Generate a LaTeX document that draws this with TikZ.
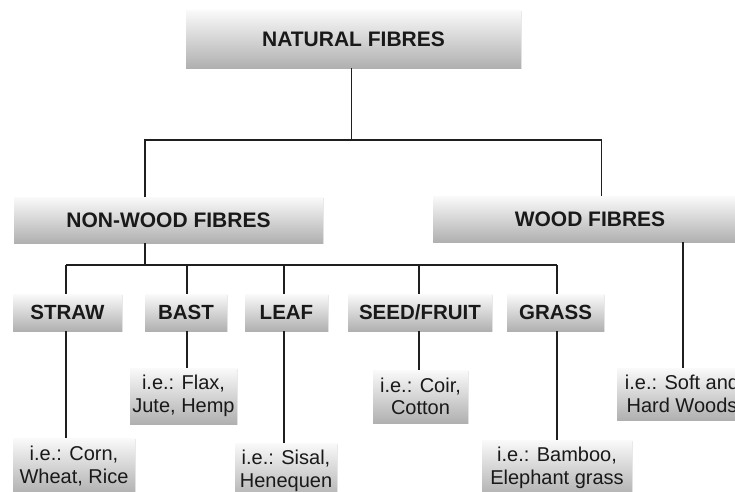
\documentclass[tikz,border=0pt]{standalone}
\usepackage{fontspec}
\setmainfont{Liberation Sans}
\usetikzlibrary{shadows}
\begin{document}
\begin{tikzpicture}[x=1pt,y=-1pt,
  box/.style={draw=none, top color=gray!4, bottom color=gray!62, inner sep=0pt,
    align=center, text=black!90,
    drop shadow={shadow xshift=1.2pt, shadow yshift=-1.2pt, opacity=0.18}},
  head/.style={box, font=\bfseries\fontsize{21}{24}\selectfont},
  cat/.style={box, font=\bfseries\fontsize{20.5}{24}\selectfont, minimum height=37pt},
  ex/.style={box, font=\fontsize{20}{22.5}\selectfont, minimum height=56pt},
  link/.style={line width=1.8pt, draw=black!88}]
\useasboundingbox (0,0) rectangle (735,491);
\clip (0,0) rectangle (735,491);
\fill[white] (0,0) rectangle (735,491);

% level 0 / 1
\node[head, minimum width=335pt, minimum height=58pt] (nat) at (353.5,39) {NATURAL FIBRES};
\node[head, minimum width=309pt, minimum height=46pt] (nw) at (168.5,220) {NON-WOOD FIBRES};
\node[head, minimum width=314pt, minimum height=46pt] (wd) at (590,219) {WOOD FIBRES};

% level 2
\node[cat, minimum width=109pt] (st) at (67.5,312.5) {STRAW};
\node[cat, minimum width=82pt] (ba) at (186,312.5) {BAST};
\node[cat, minimum width=83pt] (le) at (286.5,312.5) {LEAF};
\node[cat, minimum width=144pt] (se) at (420,312.5) {SEED/FRUIT};
\node[cat, minimum width=97pt] (gr) at (555.5,312.5) {GRASS};

% level 3
\node[ex, minimum width=122pt] (exst) at (74,466) {i.e.: Corn,\\Wheat, Rice};
\node[ex, minimum width=107pt] (exba) at (183.5,396) {i.e.: Flax,\\Jute, Hemp};
\node[ex, minimum width=102pt] (exle) at (286,471) {i.e.: Sisal,\\Henequen};
\node[ex, minimum width=95pt, minimum height=53pt] (exse) at (420.5,396.5) {i.e.: Coir,\\Cotton};
\node[ex, minimum width=150pt] (exgr) at (557,468) {i.e.: Bamboo,\\Elephant grass};
\node[ex, minimum width=130pt, minimum height=52pt] (exwd) at (682,394) {i.e.: Soft and\\Hard Woods};

% connector coordinates
\coordinate (j0) at (351.5,140);
\coordinate (jnw) at (145,140);
\coordinate (jwd) at (601.5,140);
\coordinate (b0) at (145,265);
\coordinate (s1) at (66,265);
\coordinate (s2) at (187,265);
\coordinate (s3) at (284,265);
\coordinate (s4) at (419,265);
\coordinate (s5) at (557,265);
\coordinate (w1) at (683,0);

\draw[link] (j0 |- nat.south) -- (j0);
\draw[link] (jnw |- nw.north) -- (jnw) -- (jwd) -- (jwd |- wd.north);
\draw[link] (b0 |- nw.south) -- (b0);
\draw[link] (s1) -- (s5);
\foreach \s/\c/\e in {s1/st/exst, s2/ba/exba, s3/le/exle, s4/se/exse, s5/gr/exgr}{
  \draw[link] (\s) -- (\s |- \c.north);
  \draw[link] (\s |- \c.south) -- (\s |- \e.north);
}
\draw[link] (w1 |- wd.south) -- (w1 |- exwd.north);
\end{tikzpicture}
\end{document}
